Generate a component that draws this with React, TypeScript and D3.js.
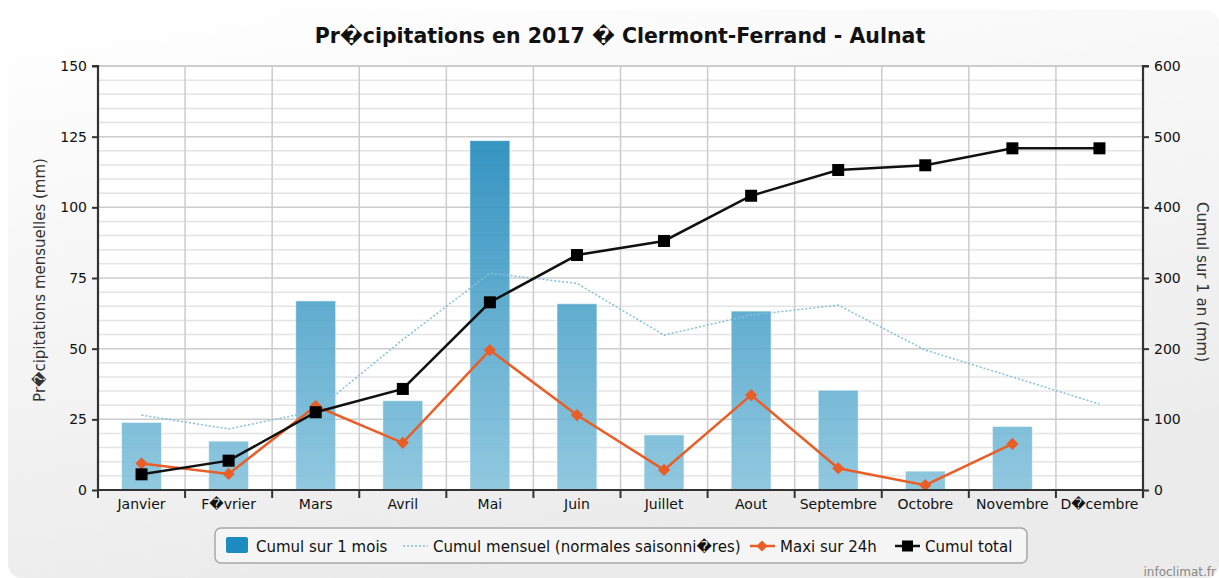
import React, { useEffect, useRef } from 'react';
import * as d3 from 'd3';

const W = 1219;
const H = 578;

const months = ['Janvier', 'F\uFFFDvrier', 'Mars', 'Avril', 'Mai', 'Juin', 'Juillet', 'Aout', 'Septembre', 'Octobre', 'Novembre', 'D\uFFFDcembre'];
// Cumul sur 1 mois (mm) - left axis
const cumulMois = [23.9, 17.3, 66.9, 31.6, 123.6, 65.9, 19.5, 63.3, 35.3, 6.7, 22.5, null];
// Cumul mensuel (normales saisonnieres) - left axis
const normales = [26.5, 21.6, 28.0, 53.2, 76.7, 73.1, 54.8, 61.9, 65.4, 49.5, 40.0, 30.4];
// Maxi sur 24h - left axis
const maxi24h = [9.4, 5.7, 29.7, 16.7, 49.5, 26.5, 7.1, 33.6, 7.7, 1.7, 16.3, null];
// Cumul total - right axis
const cumulTotal = [22.2, 41.5, 110.0, 143.0, 265.6, 332.5, 352.4, 416.4, 452.8, 459.5, 483.5, 483.5];

const leftTicks = [0, 25, 50, 75, 100, 125, 150];
const rightTicks = [0, 100, 200, 300, 400, 500, 600];

const title = 'Pr\uFFFDcipitations en 2017 \uFFFD Clermont-Ferrand - Aulnat';
const font = '"DejaVu Sans", sans-serif';

const App = () => {
  const svgRef = useRef<SVGSVGElement>(null);

  useEffect(() => {
    const svg = d3.select(svgRef.current);
    svg.selectAll('*').remove();

    const m = { left: 98, right: 1143, top: 66, bottom: 490 };

    const x = d3.scaleBand().domain(months).range([m.left, m.right]);
    const yL = d3.scaleLinear().domain([0, 150]).range([m.bottom, m.top]);
    const yR = d3.scaleLinear().domain([0, 600]).range([m.bottom, m.top]);

    const defs = svg.append('defs');
    const bg = defs.append('linearGradient').attr('id', 'bg')
      .attr('x1', 0).attr('y1', 0).attr('x2', 0.35).attr('y2', 1);
    bg.append('stop').attr('offset', 0).attr('stop-color', '#ffffff');
    bg.append('stop').attr('offset', 1).attr('stop-color', '#ebebeb');

    const barGrad = defs.append('linearGradient').attr('id', 'barGrad')
      .attr('gradientUnits', 'userSpaceOnUse')
      .attr('x1', 0).attr('y1', m.top).attr('x2', 0).attr('y2', m.bottom);
    barGrad.append('stop').attr('offset', 0).attr('stop-color', '#0479b2');
    barGrad.append('stop').attr('offset', 1).attr('stop-color', '#82c1db');

    // background
    svg.append('rect').attr('width', W).attr('height', H).attr('fill', '#ffffff');
    svg.append('rect').attr('x', 8).attr('y', 10).attr('width', W - 8).attr('height', H - 10)
      .attr('rx', 14).attr('fill', 'url(#bg)');

    // title
    svg.append('text')
      .attr('x', 620).attr('y', 43)
      .attr('text-anchor', 'middle')
      .style('font-family', font).style('font-weight', 'bold').style('font-size', '20.5px')
      .attr('fill', '#111')
      .text(title);

    // plot background
    svg.append('rect').attr('x', m.left).attr('y', m.top)
      .attr('width', m.right - m.left).attr('height', m.bottom - m.top)
      .attr('fill', '#ffffff');

    // horizontal grid
    const grid = svg.append('g');
    grid.selectAll('.minor')
      .data(d3.range(0, 151, 5).filter(v => v % 25 !== 0))
      .enter().append('line')
      .attr('x1', m.left).attr('x2', m.right)
      .attr('y1', d => yL(d)).attr('y2', d => yL(d))
      .attr('stroke', '#e4e4e4').attr('stroke-width', 1.5);
    grid.selectAll('.major')
      .data(leftTicks.slice(1))
      .enter().append('line')
      .attr('x1', m.left).attr('x2', m.right)
      .attr('y1', d => yL(d)).attr('y2', d => yL(d))
      .attr('stroke', '#cccccc').attr('stroke-width', 1.5);
    // vertical grid at category boundaries
    grid.selectAll('.vgrid')
      .data(months.slice(1))
      .enter().append('line')
      .attr('x1', d => x(d)!).attr('x2', d => x(d)!)
      .attr('y1', m.top).attr('y2', m.bottom)
      .attr('stroke', '#cccccc').attr('stroke-width', 1.5);

    // bars
    const barW = 40;
    svg.append('g').selectAll('rect')
      .data(months.map((mo, i) => ({ mo, v: cumulMois[i] })).filter(d => d.v !== null))
      .enter().append('rect')
      .attr('x', d => x(d.mo)! + x.bandwidth() / 2 - barW / 2)
      .attr('y', d => yL(d.v as number))
      .attr('width', barW)
      .attr('height', d => m.bottom - yL(d.v as number))
      .attr('fill', 'url(#barGrad)')
      .attr('fill-opacity', 0.88)
      .attr('stroke', '#ffffff').attr('stroke-width', 1).attr('stroke-opacity', 0.6);

    const cx = (mo: string) => x(mo)! + x.bandwidth() / 2;

    // normales (dotted)
    const lineNorm = d3.line<number>().x((_, i) => cx(months[i])).y(d => yL(d));
    svg.append('path').datum(normales)
      .attr('d', lineNorm)
      .attr('fill', 'none').attr('stroke', '#84c0da').attr('stroke-width', 1.5)
      .attr('stroke-dasharray', '2,2');

    // maxi sur 24h
    const maxiPts = months.map((mo, i) => ({ mo, v: maxi24h[i] })).filter(d => d.v !== null);
    const lineMaxi = d3.line<{ mo: string; v: number | null }>().x(d => cx(d.mo)).y(d => yL(d.v as number));
    svg.append('path').datum(maxiPts)
      .attr('d', lineMaxi)
      .attr('fill', 'none').attr('stroke', '#e95e27').attr('stroke-width', 2.5);
    svg.append('g').selectAll('path')
      .data(maxiPts)
      .enter().append('path')
      .attr('d', d3.symbol().type(d3.symbolDiamond2).size(95)())
      .attr('transform', d => `translate(${cx(d.mo)},${yL(d.v as number)})`)
      .attr('fill', '#e95e27');

    // cumul total
    const lineTot = d3.line<number>().x((_, i) => cx(months[i])).y(d => yR(d));
    svg.append('path').datum(cumulTotal)
      .attr('d', lineTot)
      .attr('fill', 'none').attr('stroke', '#111').attr('stroke-width', 2.5);
    svg.append('g').selectAll('rect')
      .data(cumulTotal)
      .enter().append('rect')
      .attr('x', (_, i) => cx(months[i]) - 6)
      .attr('y', d => yR(d) - 6)
      .attr('width', 12).attr('height', 12)
      .attr('fill', '#000');

    // top border
    svg.append('line').attr('x1', m.left).attr('x2', m.right).attr('y1', m.top).attr('y2', m.top)
      .attr('stroke', '#c8c8c8').attr('stroke-width', 1.5);

    // axes
    const axisColor = '#333';
    const leftAxis = svg.append('g').attr('transform', `translate(${m.left},0)`)
      .call(d3.axisLeft(yL).tickValues(leftTicks).tickSize(6).tickPadding(5));
    const rightAxis = svg.append('g').attr('transform', `translate(${m.right},0)`)
      .call(d3.axisRight(yR).tickValues(rightTicks).tickSize(6).tickPadding(5));
    const bottomAxis = svg.append('g').attr('transform', `translate(0,${m.bottom})`)
      .call(d3.axisBottom(x).tickSize(0).tickPadding(9));
    [leftAxis, rightAxis, bottomAxis].forEach(a => {
      a.select('.domain').attr('stroke', axisColor).attr('stroke-width', 2.2);
      a.selectAll('.tick line').attr('stroke', axisColor).attr('stroke-width', 2);
      a.selectAll('.tick text')
        .style('font-family', font).style('font-size', '14px').attr('fill', '#111');
    });
    leftAxis.select('.domain').attr('d', `M-6,${m.top}H0V${m.bottom}`);
    rightAxis.select('.domain').attr('d', `M6,${m.top}H0V${m.bottom + 8}`);
    bottomAxis.select('.domain').attr('d', `M${m.left},0H${m.right}`);
    // category boundary ticks
    bottomAxis.selectAll('.bt')
      .data(months)
      .enter().append('line')
      .attr('x1', d => x(d)!).attr('x2', d => x(d)!)
      .attr('y1', 0).attr('y2', 8)
      .attr('stroke', axisColor).attr('stroke-width', 2);

    // axis titles
    svg.append('text')
      .attr('transform', `translate(45,280) rotate(-90)`)
      .attr('text-anchor', 'middle')
      .style('font-family', font).style('font-size', '15px')
      .attr('fill', '#333')
      .text('Pr\uFFFDcipitations mensuelles (mm)');
    svg.append('text')
      .attr('transform', `translate(1197,282) rotate(90)`)
      .attr('text-anchor', 'middle')
      .style('font-family', font).style('font-size', '15px')
      .attr('fill', '#333')
      .text('Cumul sur 1 an (mm)');

    // legend
    const lg = svg.append('g');
    lg.append('rect').attr('x', 215).attr('y', 528).attr('width', 812).attr('height', 35)
      .attr('rx', 6).attr('fill', '#f5f5f5').attr('stroke', '#a8a8a8').attr('stroke-width', 1.5);
    const ly = 546;
    const lt = (tx: number, s: string) => lg.append('text').attr('x', tx).attr('y', ly + 5.5)
      .style('font-family', font).style('font-size', '15px').attr('fill', '#111').text(s);
    lg.append('rect').attr('x', 226).attr('y', 537).attr('width', 22).attr('height', 16).attr('rx', 2)
      .attr('fill', '#1b8bc0');
    lt(256, 'Cumul sur 1 mois');
    lg.append('line').attr('x1', 403).attr('x2', 428).attr('y1', ly).attr('y2', ly)
      .attr('stroke', '#84c0da').attr('stroke-width', 1.5).attr('stroke-dasharray', '2,2');
    lt(433, 'Cumul mensuel (normales saisonni\uFFFDres)');
    lg.append('line').attr('x1', 750).attr('x2', 775).attr('y1', ly).attr('y2', ly)
      .attr('stroke', '#e95e27').attr('stroke-width', 2.5);
    lg.append('path').attr('d', d3.symbol().type(d3.symbolDiamond2).size(80)())
      .attr('transform', `translate(762,${ly})`).attr('fill', '#e95e27');
    lt(780, 'Maxi sur 24h');
    lg.append('line').attr('x1', 895).attr('x2', 920).attr('y1', ly).attr('y2', ly)
      .attr('stroke', '#111').attr('stroke-width', 2.5);
    lg.append('rect').attr('x', 902).attr('y', ly - 5.5).attr('width', 11).attr('height', 11).attr('fill', '#000');
    lt(925, 'Cumul total');

    // credit
    svg.append('text').attr('x', 1216).attr('y', 576).attr('text-anchor', 'end')
      .style('font-family', font).style('font-size', '12px').attr('fill', '#888')
      .text('infoclimat.fr');
  }, []);

  return (
    <svg ref={svgRef} width={W} height={H}
      style={{ position: 'absolute', left: 0, top: 0, display: 'block' }} />
  );
};

export default App;
